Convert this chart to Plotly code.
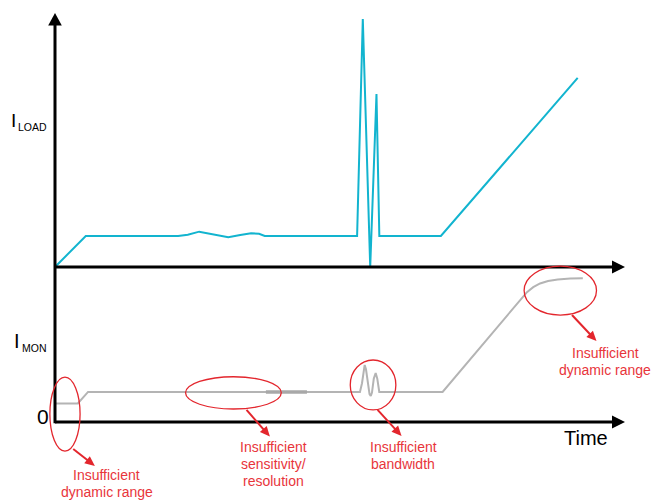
import math
import plotly.graph_objects as go

# ---- signal data (time in arbitrary units, currents in arbitrary units) ----
time_load = [0, 5.4, 21.6, 23.3, 25.3, 27.2, 29.0, 30.4, 32.5, 34.4, 35.8, 36.8,
             53.0, 54.0, 55.3, 56.4, 56.9, 67.7, 91.7]
i_load = [0, 1.0, 1.0, 1.04, 1.14, 1.07, 0.99, 0.96, 1.03, 1.09, 1.07, 1.0,
          1.0, 8.0, 0.0, 5.58, 1.0, 1.0, 6.1]

time_mon = [0, 4.0, 5.8, 53.5, 53.86, 54.12, 54.33, 54.56, 54.82, 55.18, 55.4,
            55.61, 55.93, 56.26, 56.54, 56.75, 56.89,
            68.0, 82.8, 83.9, 85.1, 86.5, 88.2, 90.4, 92.6]
i_mon = [0.6, 0.6, 0.97, 0.97, 1.25, 1.65, 1.84, 1.7, 1.3, 0.9, 0.84,
         0.95, 1.4, 1.58, 1.4, 1.05, 0.97,
         0.97, 4.19, 4.35, 4.47, 4.55, 4.6, 4.63, 4.64]

# quantisation step visible on the monitor output
step_time = [37.0, 44.2]
step_level = [0.97, 0.97]

# problem regions on the monitor trace: (t0, t1, i0, i1)
regions = [(-0.9, 4.4, -0.94, 1.45),
           (22.9, 39.7, 0.42, 1.46),
           (51.8, 59.8, 0.39, 2.0),
           (82.3, 95.0, 3.45, 5.03)]
# callout arrows: (tail t, tail i, head t, head i)
callouts = [(3.2, -0.87, 7.0, -1.42),
            (33.6, 0.39, 37.7, -0.47),
            (56.6, 0.39, 60.8, -0.45),
            (90.7, 3.45, 95.0, 2.61)]
# callout texts: (centre t, first-line i, lines)
labels = [(9.1, -1.71, ["Insufficient", "dynamic range"]),
          (38.3, -0.82, ["Insufficient", "sensitivity/", "resolution"]),
          (61.1, -0.82, ["Insufficient", "bandwidth"]),
          (96.5, 2.21, ["Insufficient", "dynamic range"])]

T_END = 100.0          # tip of the time axes
LOAD_TOP = 8.19        # tip of the vertical axis (load units)
MON_OFFSET = 5.0       # monitor zero sits this far below load zero
PX_X = 5.7             # pixels per time unit
PX_Y = 31.0            # pixels per current unit
W, H = 663, 500

CYAN = "#12b4cf"
GREY = "#b4b4b4"
RED = "#e3262d"
RED_TXT = "#e8353b"
FONT = "Liberation Sans, Arial, sans-serif"

fig = go.Figure()
fig.add_trace(go.Scatter(x=time_load, y=i_load, mode="lines",
                         line=dict(color=CYAN, width=2), yaxis="y"))
fig.add_trace(go.Scatter(x=time_mon, y=i_mon, mode="lines",
                         line=dict(color=GREY, width=2), yaxis="y2"))
fig.add_trace(go.Scatter(x=step_time, y=step_level, mode="lines",
                         line=dict(color="#a8a8a8", width=3.5), yaxis="y2"))

shapes = []
ax_w = 3
ah_len_t = 13 / PX_X
ah_half_i = 6.5 / PX_Y
ah_len_i = 12.5 / PX_Y
ah_half_t = 6.8 / PX_X

# horizontal time axes (load zero and monitor zero), both with arrow heads
for yref in ("y", "y2"):
    shapes.append(dict(type="line", xref="x", yref=yref, x0=0, x1=T_END - ah_len_t + 0.3,
                       y0=0, y1=0, line=dict(color="black", width=ax_w)))
    shapes.append(dict(type="path", xref="x", yref=yref,
                       path=f"M {T_END - ah_len_t},{ah_half_i} L {T_END},0 "
                            f"L {T_END - ah_len_t},{-ah_half_i} Z",
                       fillcolor="black", line=dict(color="black", width=0)))

# shared vertical axis from monitor zero up to the arrow tip
shapes.append(dict(type="line", xref="x", yref="y", x0=0, x1=0,
                   y0=-MON_OFFSET - 0.04, y1=LOAD_TOP - ah_len_i + 0.05,
                   line=dict(color="black", width=ax_w)))
shapes.append(dict(type="path", xref="x", yref="y",
                   path=f"M {-ah_half_t},{LOAD_TOP - ah_len_i} L 0,{LOAD_TOP} "
                        f"L {ah_half_t},{LOAD_TOP - ah_len_i} Z",
                   fillcolor="black", line=dict(color="black", width=0)))

for t0, t1, i0, i1 in regions:
    shapes.append(dict(type="circle", xref="x", yref="y2", x0=t0, x1=t1, y0=i0, y1=i1,
                       line=dict(color=RED, width=1.3)))

# callout arrows: a shaft plus a filled head, sized in screen pixels
HEAD_LEN, HEAD_HALF = 10.0, 4.5
for ta, ia, th, ih in callouts:
    dx = (th - ta) * PX_X
    dy = (ih - ia) * PX_Y
    n = math.hypot(dx, dy)
    ux, uy = dx / n, dy / n
    bx, by = -ux * HEAD_LEN, -uy * HEAD_LEN          # back from the tip
    px, py = -uy * HEAD_HALF, ux * HEAD_HALF         # perpendicular
    b1 = (th + (bx + px) / PX_X, ih + (by + py) / PX_Y)
    b2 = (th + (bx - px) / PX_X, ih + (by - py) / PX_Y)
    mid = (th + bx * 0.8 / PX_X, ih + by * 0.8 / PX_Y)
    shapes.append(dict(type="line", xref="x", yref="y2", x0=ta, y0=ia, x1=mid[0], y1=mid[1],
                       line=dict(color=RED, width=2)))
    shapes.append(dict(type="path", xref="x", yref="y2",
                       path=f"M {th},{ih} L {b1[0]},{b1[1]} L {b2[0]},{b2[1]} Z",
                       fillcolor=RED, line=dict(color=RED, width=0)))

annotations = []
line_step = 16.7 / PX_Y
for tc, i_first, lines in labels:
    for k, txt in enumerate(lines):
        annotations.append(dict(x=tc, y=i_first - k * line_step, xref="x", yref="y2",
                                text=txt, showarrow=False, xanchor="center",
                                yanchor="middle",
                                font=dict(family=FONT, size=14, color=RED_TXT)))


def current_label(x, y_main, y_sub, yref, name, size):
    """Large 'I' with a small subscript name placed right after it."""
    return [
        dict(x=x, y=y_main, xref="x", yref=yref, text="I", showarrow=False,
             xanchor="right", yanchor="middle", borderpad=0,
             font=dict(family=FONT, size=size, color="black")),
        dict(x=x + 0.08, y=y_sub, xref="x", yref=yref, text=name, showarrow=False,
             xanchor="left", yanchor="middle", borderpad=0,
             font=dict(family=FONT, size=10.5, color="black")),
    ]


# axis labels
annotations += current_label(-6.67, 4.72, 4.52, "y", "LOAD", 19)
annotations += current_label(-5.96, 2.62, 2.40, "y2", "MON", 20)
annotations += [
    dict(x=-2.1, y=0.18, xref="x", yref="y2", text="0", showarrow=False,
         xanchor="center", yanchor="middle", font=dict(family=FONT, size=21, color="black")),
    dict(x=93.2, y=-0.52, xref="x", yref="y2", text="Time", showarrow=False,
         xanchor="center", yanchor="middle", font=dict(family=FONT, size=20, color="black")),
]

x0_px, y_load0_px = 55, 267
fig.update_layout(
    width=W, height=H,
    margin=dict(l=0, r=0, t=0, b=0),
    paper_bgcolor="white", plot_bgcolor="white",
    showlegend=False,
    xaxis=dict(range=[-x0_px / PX_X, (W - x0_px) / PX_X], visible=False, fixedrange=True),
    yaxis=dict(range=[(y_load0_px - H) / PX_Y, y_load0_px / PX_Y], visible=False),
    yaxis2=dict(range=[(y_load0_px - H) / PX_Y + MON_OFFSET, y_load0_px / PX_Y + MON_OFFSET],
                visible=False, overlaying="y"),
    shapes=shapes,
    annotations=annotations,
)

fig.write_html("out.html")
